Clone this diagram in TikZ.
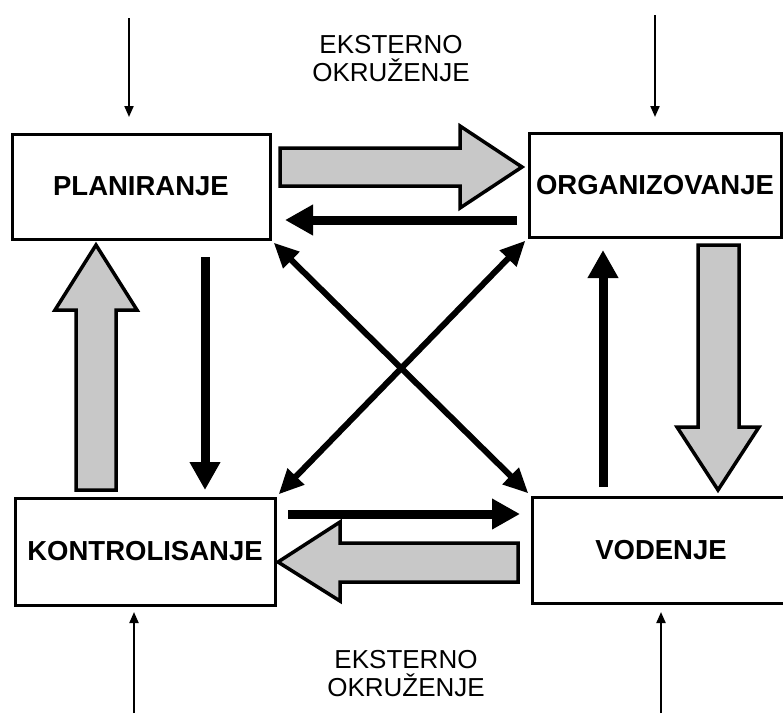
\documentclass[tikz,border=0pt]{standalone}
\usepackage{fontspec}
\setmainfont{Liberation Sans}
\usetikzlibrary{arrows.meta}
\definecolor{blockgray}{RGB}{200,200,200}
\begin{document}
\begin{tikzpicture}[x=1pt,y=-1pt,
  box/.style={draw,line width=3pt,fill=white,inner sep=0pt,
    font=\fontsize{27.5}{30}\selectfont\bfseries},
  exttext/.style={align=center,font=\fontsize{26}{28}\selectfont},
  blockarrow/.style={draw,line width=3.5pt,fill=blockgray,line join=miter},
  thinarr/.style={line width=9pt,-{Triangle[length=28pt,width=29pt]}},
  diag/.style={line width=6pt,shorten <=3pt,shorten >=3pt,
    {Triangle[length=25pt,width=22pt]}-{Triangle[length=25pt,width=22pt]}},
  extarr/.style={line width=2pt,-{Triangle[length=11pt,width=9pt]}}]
\useasboundingbox (0,0) rectangle (783,713);
\fill[white] (0,0) rectangle (783,713);

% boxes
\node[box,minimum width=258pt,minimum height=105pt] (pl) at (141,186.5) {PLANIRANJE};
\node[box,minimum width=252pt,minimum height=104pt] (org) at (655,185) {ORGANIZOVANJE};
\node[box,minimum width=260pt,minimum height=107pt] (kon) at (145,551.5) {KONTROLISANJE};
\node[box,minimum width=258pt,minimum height=106pt] (vod) at (661,550) {VODENJE};

% external environment labels
\node[exttext] (ext1) at (391,59) {EKSTERNO\\OKRUŽENJE};
\node[exttext] (ext2) at (406,674) {EKSTERNO\\OKRUŽENJE};

% external arrows
\coordinate (t1) at (129,18);  \coordinate (t1e) at (129,117);
\coordinate (t2) at (655,15);  \coordinate (t2e) at (655,117);
\coordinate (b1) at (134,713); \coordinate (b1e) at (134,612);
\coordinate (b2) at (661,713); \coordinate (b2e) at (661,612);
\draw[extarr] (t1) -- (t1e);
\draw[extarr] (t2) -- (t2e);
\draw[extarr] (b1) -- (b1e);
\draw[extarr] (b2) -- (b2e);

% block arrows
\draw[blockarrow] (280,148) -- (460,148) -- (460,126) -- (522,167) -- (460,208)
  -- (460,186) -- (280,186) -- cycle;
\draw[blockarrow] (518,543) -- (340,543) -- (340,522) -- (278,562) -- (340,601)
  -- (340,582) -- (518,582) -- cycle;
\draw[blockarrow] (76,490) -- (76,310) -- (55,310) -- (96,245) -- (137,310)
  -- (116,310) -- (116,490) -- cycle;
\draw[blockarrow] (698,245) -- (739,245) -- (739,427) -- (759,427) -- (718,490)
  -- (677,427) -- (698,427) -- cycle;

% thin arrows
\coordinate (h1s) at (517,220); \coordinate (h1e) at (285,220);
\coordinate (h2s) at (288,514); \coordinate (h2e) at (520,514);
\coordinate (v1s) at (205,257); \coordinate (v1e) at (205,490);
\coordinate (v2s) at (603,487); \coordinate (v2e) at (603,250);
\draw[thinarr] (h1s) -- (h1e);
\draw[thinarr] (h2s) -- (h2e);
\draw[thinarr] (v1s) -- (v1e);
\draw[thinarr] (v2s) -- (v2e);

% diagonals
\draw[diag] (pl.south east) -- (vod.north west);
\draw[diag] (org.south west) -- (kon.north east);
\end{tikzpicture}
\end{document}
